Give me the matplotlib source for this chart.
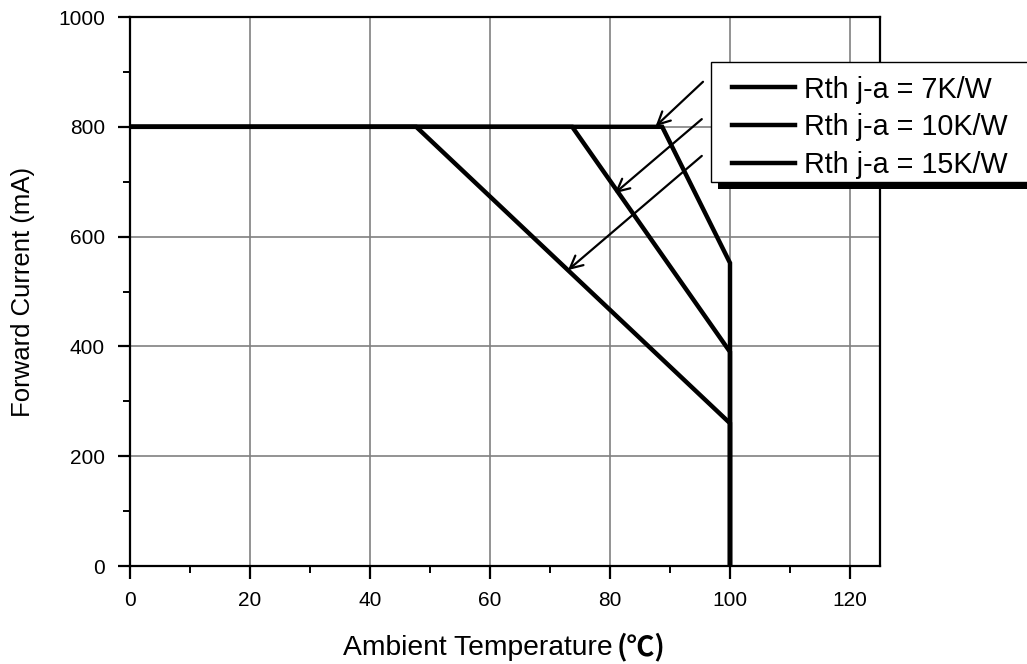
import matplotlib.pyplot as plt
from matplotlib.patches import Rectangle
from matplotlib.ticker import MultipleLocator

plt.rcParams['font.family'] = ['Liberation Sans', 'DejaVu Sans']

# derating curves: flat at 800 mA, then linear down to Ta = 100 C
series = ['Rth j-a = 7K/W', 'Rth j-a = 10K/W', 'Rth j-a = 15K/W']
temp_knee = [88.7, 73.7, 47.7]
current_flat = 800
temp_max = 100
current_at_max = [552, 390, 260]

# arrow start / end points pointing from the legend to each curve
arrow_start = [(95.5, 882), (95.3, 814), (95.3, 747)]
arrow_end = [(87.6, 801), (80.8, 679), (73.0, 539)]

W, H = 1027, 664
fig = plt.figure(figsize=(W / 100, H / 100), dpi=100)
ax = fig.add_axes([130 / W, 1 - 566 / H, 750 / W, 549 / H])

lines = []
for name, tk, ie in zip(series, temp_knee, current_at_max):
    ln, = ax.plot([0, tk, temp_max, temp_max], [current_flat, current_flat, ie, 0],
                  color='black', lw=3.2, solid_joinstyle='miter', zorder=3, label=name)
    lines.append(ln)

for s, e in zip(arrow_start, arrow_end):
    ax.annotate('', xy=e, xytext=s,
                arrowprops=dict(arrowstyle='->,head_length=0.9,head_width=0.45',
                                color='black', lw=1.6, shrinkA=0, shrinkB=0),
                zorder=4)

ax.set_xlim(0, 125)
ax.set_ylim(0, 1000)
ax.xaxis.set_major_locator(MultipleLocator(20))
ax.xaxis.set_minor_locator(MultipleLocator(10))
ax.yaxis.set_major_locator(MultipleLocator(200))
ax.yaxis.set_minor_locator(MultipleLocator(100))
ax.grid(True, which='major', color='#808080', lw=1.2)
ax.tick_params(which='major', direction='out', length=9, width=1.6, labelsize=15, pad=9)
ax.tick_params(which='minor', direction='out', length=5, width=1.4)
for sp in ax.spines.values():
    sp.set_linewidth(1.6)

ax.set_ylabel('Forward Current (mA)', fontsize=18.5, labelpad=17)
fig.text(613 / W, 1 - 648 / H, 'Ambient Temperature', fontsize=20.3,
         ha='right', va='center')
fig.text(617 / W, 1 - 647 / H, '(\u2103)', fontsize=20, fontweight='bold',
         family=['Noto Sans CJK SC', 'DejaVu Sans'], ha='left', va='center')

# legend box with a solid drop shadow, running off the right edge
box_x0, box_y0, box_w, box_h = 711, 62, 340, 120
shadow = Rectangle(((box_x0 + 7) / W, 1 - (box_y0 + box_h + 7) / H), box_w / W, box_h / H,
                   transform=fig.transFigure, facecolor='black', edgecolor='none', zorder=5)
frame = Rectangle((box_x0 / W, 1 - (box_y0 + box_h) / H), box_w / W, box_h / H,
                  transform=fig.transFigure, facecolor='white', edgecolor='black',
                  lw=1.0, zorder=6)
fig.add_artist(shadow)
fig.add_artist(frame)

leg = fig.legend(handles=lines, loc='upper left', bbox_to_anchor=(732 / W, 1 - 75.5 / H),
                 fontsize=20.7, frameon=False, handlelength=2.2, handletextpad=0.3,
                 labelspacing=0.34, borderpad=0, borderaxespad=0)
leg.set_zorder(7)

fig.savefig('out.png', dpi=100)
